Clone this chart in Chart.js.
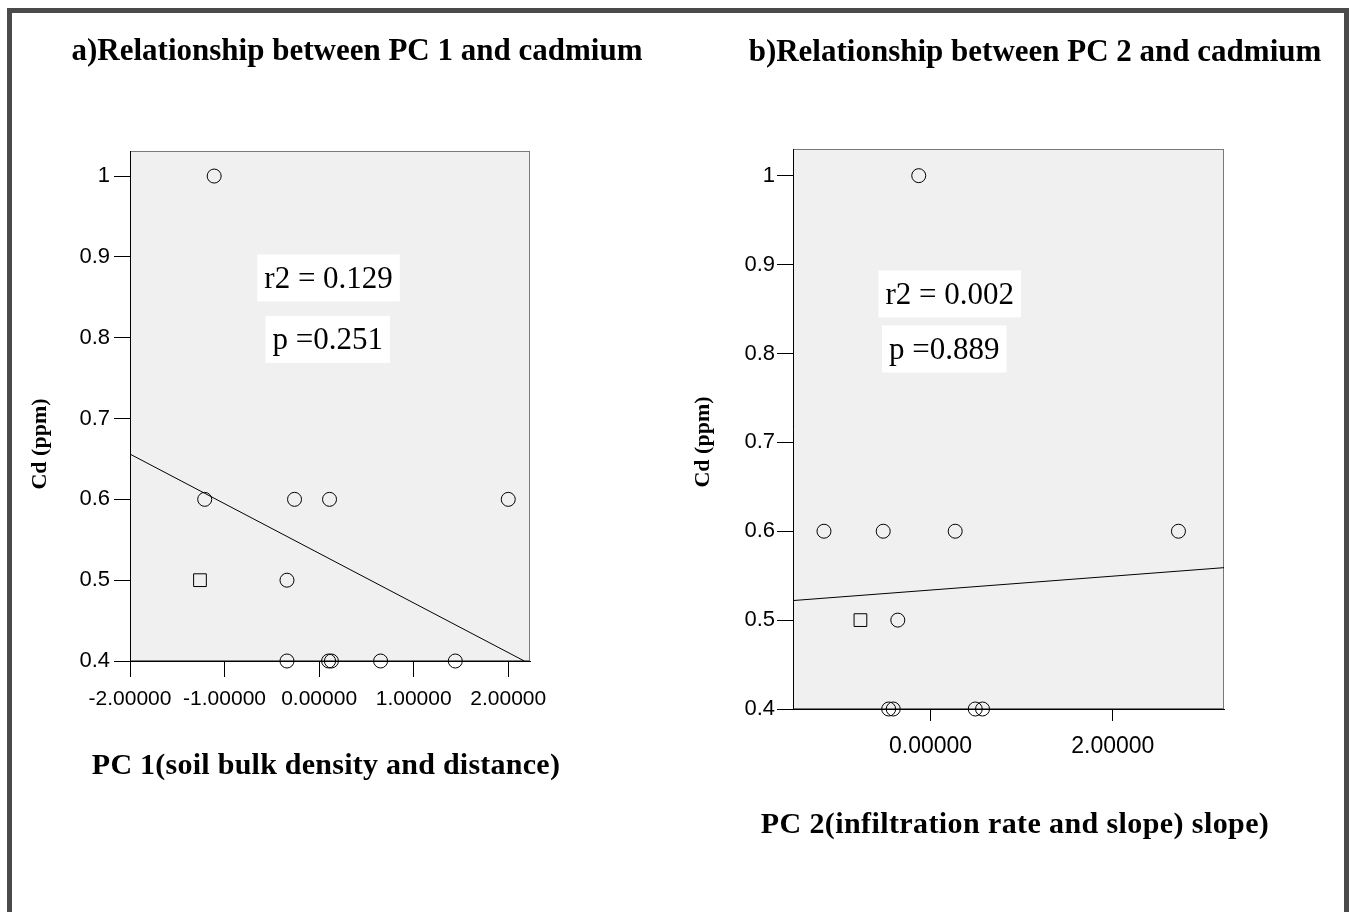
<!DOCTYPE html>
<html>
<head>
<meta charset="utf-8">
<script src="https://cdn.jsdelivr.net/npm/chart.js@4.4.0/dist/chart.umd.min.js"></script>
<style>
html, body { margin: 0; padding: 0; background: #fff; }
body { width: 1349px; height: 912px; position: relative; overflow: hidden; }
#frame { position: absolute; left: 7px; top: 8px; width: 1342px; height: 940px; border: 5px solid #4a4a4a; box-sizing: border-box; }
#chartA { position: absolute; left: 0; top: 0; }
#chartB { position: absolute; left: 660px; top: 0; }
</style>
</head>
<body>
<div id="frame"></div>
<canvas id="chartA" width="660" height="820"></canvas>
<canvas id="chartB" width="689" height="880"></canvas>
<script>
// panel a) PC 1 scores vs cadmium
var pc1Scores = [-1.11, -1.21, -0.26, 0.11, 2.00, -0.34, -0.34, 0.10, 0.13, 0.65, 1.44];
var pc1Cd     = [1.0,   0.6,   0.6,   0.6,  0.6,  0.5,   0.4,   0.4,  0.4,  0.4,  0.4];
var pc1SquareScore = [-1.26];
var pc1SquareCd    = [0.5];
var pc1FitScore = [-2.0, 2.17];
var pc1FitCd    = [0.656, 0.400];
var pc1XTicks = [-2, -1, 0, 1, 2];
var pc1Stats = ['r2 = 0.129', 'p =0.251'];

// panel b) PC 2 scores vs cadmium
var pc2Scores = [-0.13, -1.17, -0.52, 0.27, 2.72, -0.36, -0.46, -0.41, 0.49, 0.57];
var pc2Cd     = [1.0,   0.6,   0.6,   0.6,  0.6,  0.5,   0.4,   0.4,   0.4,  0.4];
var pc2SquareScore = [-0.77];
var pc2SquareCd    = [0.5];
var pc2FitScore = [-1.51, 3.22];
var pc2FitCd    = [0.522, 0.559];
var pc2XTicks = [0, 2];
var pc2Stats = ['r2 = 0.002', 'p =0.889'];

var cdTicks = [0.4, 0.5, 0.6, 0.7, 0.8, 0.9, 1];

var SERIF = '"Liberation Serif", "Times New Roman", serif';
var SANS = '"Liberation Sans", Arial, sans-serif';

function toPoints(xs, ys) {
    return xs.map(function (v, i) { return { x: v, y: ys[i] }; });
}

// grey plot background with thin frame
var plotFrame = {
    id: 'plotFrame',
    beforeDraw: function (chart) {
        var a = chart.chartArea, ctx = chart.ctx;
        ctx.save();
        ctx.fillStyle = '#f0f0f0';
        ctx.fillRect(a.left, a.top, a.right - a.left, a.bottom - a.top);
        ctx.strokeStyle = '#7a7a7a';
        ctx.lineWidth = 1;
        ctx.strokeRect(a.left + 0.5, a.top + 0.5, a.right - a.left - 1, a.bottom - a.top - 1);
        ctx.restore();
    }
};

// white boxes with r2 / p values, anchored in data units
var statsBoxes = {
    id: 'statsBoxes',
    afterDatasetsDraw: function (chart, args, opts) {
        var ctx = chart.ctx, x = chart.scales.x, y = chart.scales.y;
        ctx.save();
        ctx.font = '31px ' + SERIF;
        ctx.textAlign = 'center';
        ctx.textBaseline = 'middle';
        opts.items.forEach(function (it) {
            var cx = x.getPixelForValue(it.x), cy = y.getPixelForValue(it.y);
            var w = ctx.measureText(it.text).width + 14, h = 47;
            ctx.fillStyle = '#fff';
            ctx.fillRect(cx - w / 2, cy - h / 2, w, h);
            ctx.fillStyle = '#000';
            ctx.fillText(it.text, cx, cy + 2);
        });
        ctx.restore();
    }
};

// panel heading, x title (letter-spaced like the original) and vertical axis label
var panelText = {
    id: 'panelText',
    afterDraw: function (chart, args, opts) {
        var ctx = chart.ctx;
        ctx.save();
        ctx.fillStyle = '#000';
        ctx.textAlign = 'center';
        ctx.textBaseline = 'alphabetic';
        ctx.font = 'bold 31px ' + SERIF;
        ctx.fillText(opts.title, opts.titleX, opts.titleY);
        ctx.font = 'bold 30px ' + SERIF;
        ctx.letterSpacing = opts.xLabelSpacing;
        ctx.fillText(opts.xLabel, opts.xLabelX, opts.xLabelY);
        ctx.letterSpacing = '0px';
        ctx.translate(opts.yLabelX, opts.yLabelY);
        ctx.rotate(-Math.PI / 2);
        ctx.font = 'bold 22px ' + SERIF;
        ctx.textBaseline = 'middle';
        ctx.fillText('Cd (ppm)', 0, 0);
        ctx.restore();
    }
};

function makeChart(id, cfg) {
    return new Chart(document.getElementById(id), {
        type: 'scatter',
        data: {
            datasets: [{
                label: 'Cd',
                data: toPoints(cfg.xs, cfg.ys),
                pointStyle: 'circle',
                pointRadius: 7,
                borderWidth: 1,
                borderColor: '#000',
                backgroundColor: 'rgba(0,0,0,0)',
                clip: false
            }, {
                label: 'Cd (other)',
                data: toPoints(cfg.sqX, cfg.sqY),
                pointStyle: 'rect',
                pointRadius: 9,
                borderWidth: 1,
                borderColor: '#000',
                backgroundColor: 'rgba(0,0,0,0)',
                clip: false
            }, {
                type: 'line',
                label: 'Linear fit',
                data: toPoints(cfg.fitX, cfg.fitY),
                showLine: true,
                borderColor: '#000',
                borderWidth: 1,
                pointRadius: 0,
                fill: false
            }]
        },
        options: {
            responsive: false,
            animation: false,
            layout: { padding: cfg.padding },
            scales: {
                x: {
                    type: 'linear',
                    min: cfg.xMin,
                    max: cfg.xMax,
                    afterBuildTicks: function (s) { s.ticks = cfg.xTicks.map(function (v) { return { value: v }; }); },
                    afterFit: function (s) { s.height = cfg.xHeight; },
                    grid: { drawOnChartArea: false, tickLength: cfg.xTickLen, tickColor: '#000' },
                    border: { color: '#000' },
                    ticks: {
                        color: '#000',
                        autoSkip: false,
                        maxRotation: 0,
                        padding: cfg.xTickPad,
                        font: { family: SANS, size: cfg.xTickSize },
                        callback: function (v) { return Number(v).toFixed(5); }
                    }
                },
                y: {
                    min: 0.4,
                    max: cfg.yMax,
                    afterBuildTicks: function (s) { s.ticks = cdTicks.map(function (v) { return { value: v }; }); },
                    afterFit: function (s) { s.width = cfg.yWidth; },
                    grid: { drawOnChartArea: false, tickLength: 16, tickColor: '#000' },
                    border: { color: '#000' },
                    ticks: {
                        color: '#000',
                        padding: cfg.yTickPad,
                        font: { family: SANS, size: 22 },
                        callback: function (v) { return String(v); }
                    }
                }
            },
            plugins: {
                legend: { display: false },
                tooltip: { enabled: false },
                statsBoxes: { items: cfg.stats },
                panelText: cfg.text
            }
        },
        plugins: [plotFrame, statsBoxes, panelText]
    });
}

makeChart('chartA', {
    xs: pc1Scores, ys: pc1Cd, sqX: pc1SquareScore, sqY: pc1SquareCd,
    fitX: pc1FitScore, fitY: pc1FitCd,
    xMin: -2, xMax: 2.23, yMax: 1.031, xTicks: pc1XTicks,
    padding: { left: 20, top: 151, right: 130, bottom: 20 },
    xHeight: 139, yWidth: 110, xTickLen: 16, xTickPad: 10, xTickSize: 21, yTickPad: 4,
    stats: [{ x: 0.1, y: 0.874, text: pc1Stats[0] }, { x: 0.09, y: 0.798, text: pc1Stats[1] }],
    text: {
        title: 'a)Relationship between PC 1 and cadmium', titleX: 357, titleY: 60,
        xLabel: 'PC 1(soil bulk density and distance)', xLabelX: 326, xLabelY: 774, xLabelSpacing: '0.25px',
        yLabelX: 40, yLabelY: 444
    }
});

makeChart('chartB', {
    xs: pc2Scores, ys: pc2Cd, sqX: pc2SquareScore, sqY: pc2SquareCd,
    fitX: pc2FitScore, fitY: pc2FitCd,
    xMin: -1.51, xMax: 3.22, yMax: 1.030, xTicks: pc2XTicks,
    padding: { left: 20, top: 149, right: 125, bottom: 20 },
    xHeight: 151, yWidth: 113, xTickLen: 12, xTickPad: 12, xTickSize: 23, yTickPad: 2,
    stats: [{ x: 0.21, y: 0.867, text: pc2Stats[0] }, { x: 0.15, y: 0.805, text: pc2Stats[1] }],
    text: {
        title: 'b)Relationship between PC 2 and cadmium', titleX: 375, titleY: 61,
        xLabel: 'PC 2(infiltration rate and slope) slope)', xLabelX: 355, xLabelY: 833, xLabelSpacing: '0.4px',
        yLabelX: 43, yLabelY: 442
    }
});
</script>
</body>
</html>
